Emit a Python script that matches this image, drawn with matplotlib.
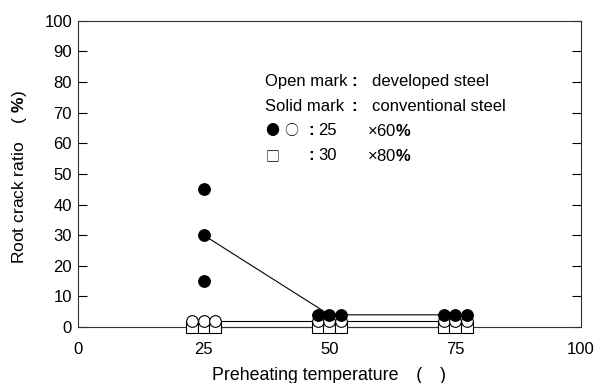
import matplotlib
matplotlib.use("Agg")
import matplotlib.pyplot as plt
from matplotlib.transforms import blended_transform_factory

plt.rcParams['font.family'] = ['Liberation Sans', 'Noto Sans CJK JP', 'DejaVu Sans']
plt.rcParams['mathtext.fontset'] = 'custom'
plt.rcParams['mathtext.rm'] = 'Liberation Sans'
plt.rcParams['mathtext.bf'] = 'Liberation Sans:bold'

# ---- data ----
temps = [25, 50, 75]
x_ticks = [0, 25, 50, 75, 100]
y_ticks = [0, 10, 20, 30, 40, 50, 60, 70, 80, 90, 100]

# conventional steel (solid circles), 25 x 60%
conv_temp = [25, 25, 25, 50, 50, 50, 75, 75, 75]
conv_slot = [0, 0, 0, -1, 0, 1, -1, 0, 1]
conv_vals = [45, 30, 15, 4, 4, 4, 4, 4, 4]
conv_line = [30, 4, 4]

# developed steel, 25 x 60% (open circles)
dev60_temp = [25, 25, 25, 50, 50, 50, 75, 75, 75]
dev60_slot = [-1, 0, 1, -1, 0, 1, -1, 0, 1]
dev60_vals = [2, 2, 2, 2, 2, 2, 2, 2, 2]
dev60_line = [2, 2, 2]

# developed steel, 30 x 80% (open squares)
dev80_temp = [25, 25, 25, 50, 50, 50, 75, 75, 75]
dev80_slot = [-1, 0, 1, -1, 0, 1, -1, 0, 1]
dev80_vals = [0, 0, 0, 0, 0, 0, 0, 0, 0]
dev80_line = [0, 0, 0]

xlabel = "Preheating temperature\u3000(\u3000)"
ylabel = r"Root crack ratio    ( $\mathbf{\%}$)"

# ---- figure ----
fig = plt.figure(figsize=(6.0, 3.83), dpi=100)
ax = fig.add_axes([0.13, 0.146, 0.838, 0.8])

JIT = 2.3
ms = 8.4
lw = 0.8

def xs(t, s):
    return [a + JIT * b for a, b in zip(t, s)]

# lines
ax.plot(temps, dev80_line, color='black', lw=lw, zorder=2, clip_on=False)
ax.plot(temps, dev60_line, color='black', lw=lw, zorder=2, clip_on=False)
ax.plot(temps, conv_line, color='black', lw=lw, zorder=2, clip_on=False)

# markers
ax.plot(xs(dev80_temp, dev80_slot), dev80_vals, ls='none', marker='s', ms=ms,
        mfc='white', mec='black', mew=0.8, zorder=3, clip_on=False)
ax.plot(xs(dev60_temp, dev60_slot), dev60_vals, ls='none', marker='o', ms=ms,
        mfc='white', mec='black', mew=0.8, zorder=4, clip_on=False)
ax.plot(xs(conv_temp, conv_slot), conv_vals, ls='none', marker='o', ms=ms,
        mfc='black', mec='black', mew=0.8, zorder=5, clip_on=False)

ax.set_xlim(0, 100)
ax.set_ylim(0, 100)
ax.set_xticks(x_ticks)
ax.set_yticks(y_ticks)
ax.tick_params(axis='x', length=0, pad=11, labelsize=12)
ax.tick_params(axis='y', direction='in', length=6.5, width=0.8, pad=4.3,
               labelsize=12, right=True, left=True)
for sp in ax.spines.values():
    sp.set_linewidth(0.8)
    sp.set_color('#333333')

ax.set_xlabel(xlabel, fontsize=12.8, labelpad=7)
ax.set_ylabel(ylabel, fontsize=12.5)
ax.yaxis.set_label_coords(-0.097, 0.49)

# legend-like annotation
tr = blended_transform_factory(fig.transFigure, ax.transData)
fs = 12
def t(px, y, s, ha='left', **kw):
    ax.text(px / 600.0, y, s, transform=tr, fontsize=kw.pop('fontsize', fs),
            va='center', ha=ha, **kw)

t(265, 80.1, "Open mark")
t(354, 80.1, ":", ha='center', fontweight='bold')
t(372, 80.1, "developed steel")
t(265, 71.9, "Solid mark")
t(354, 71.9, ":", ha='center', fontweight='bold')
t(372, 71.9, "conventional steel")
t(272.5, 64.0, "●", ha='center', fontsize=10, family=['Noto Sans CJK JP'])
t(291, 64.0, "○", ha='center', fontsize=10, family=['Noto Sans CJK JP'])
t(311, 64.0, ":", ha='center', fontweight='bold')
t(318, 64.0, "25")
t(367, 64.0, r"×60$\mathbf{\%}$")
t(272.5, 55.9, "□", ha='center', fontsize=10, family=['Noto Sans CJK JP'])
t(311, 55.9, ":", ha='center', fontweight='bold')
t(318, 55.9, "30")
t(367, 55.9, r"×80$\mathbf{\%}$")

fig.savefig("out.png", dpi=100)
